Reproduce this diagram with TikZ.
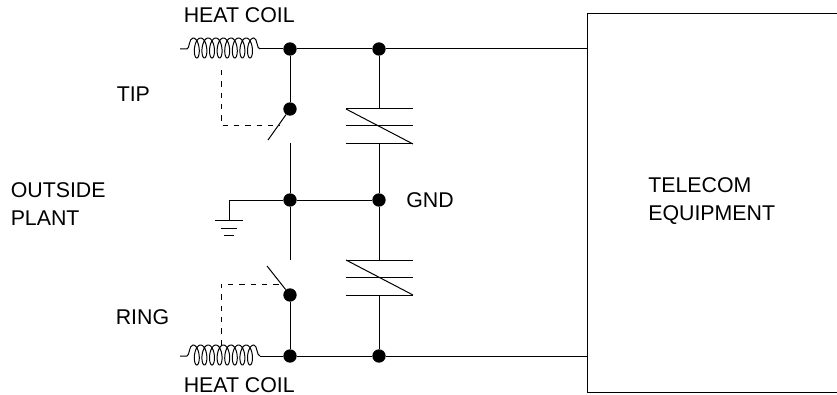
\documentclass[tikz,border=0pt]{standalone}
\usepackage{fontspec}
\setmainfont{Liberation Sans}
\tikzset{
  wire/.style={black, line width=0.75pt},
  dashwire/.style={black, line width=0.5pt, dash pattern=on 4pt off 4.5pt},
  punto/.style={circle, fill=black, inner sep=0pt, minimum size=10pt},
  etiqueta/.style={inner sep=0pt, anchor=base west, font=\fontsize{16pt}{19pt}\selectfont},
}
% bobina: entra por (#1,#2), sale 80 mas a la derecha
\newcommand{\heatcoil}[2]{
  \draw[wire] (#1,#2) -- ++(7,0) .. controls ({#1+9.5},{#2}) and ({#1+9},{#2-11}) .. ({#1+13},{#2-11})
    -- plot[domain=0:2880, samples=260, smooth] ({#1+13+\x/360*7.6+4.2*sin(\x)}, {#2-11+10*(1-cos(\x))})
    .. controls ({#1+77.5},{#2-11}) and ({#1+76.5},{#2}) .. ({#1+80},{#2});
}
\begin{document}
\begin{tikzpicture}[x=0.75pt, y=-0.75pt]
    \useasboundingbox (0,0) rectangle (837,395);

    % nodos
    \node[punto] (ta) at (290,49) {};
    \node[punto] (tb) at (379,49) {};
    \node[punto] (sa) at (290,109) {};
    \node[punto] (ga) at (290,200) {};
    \node[punto] (gb) at (379,200) {};
    \node[punto] (sb) at (290,295) {};
    \node[punto] (ra) at (290,356) {};
    \node[punto] (rb) at (379,356) {};

    % equipo
    \node[draw, wire, anchor=north west, inner sep=0pt, minimum width=195pt, minimum height=284pt] (equipo) at (586.5,13) {};

    % puntos libres
    \coordinate (coilt) at (260,49);
    \coordinate (coilr) at (260,356);
    \coordinate (ct) at (290,143);
    \coordinate (cb) at (290,260);
    \coordinate (bt) at (268,140);
    \coordinate (bb) at (267,266);
    \coordinate (gnd) at (229,200);
    \coordinate (gp) at (229,220);
    \coordinate (c1) at (379,109);
    \coordinate (c2) at (379,144);
    \coordinate (c3) at (379,260);
    \coordinate (c4) at (379,295);

    % bobinas
    \heatcoil{180}{49}
    \heatcoil{180}{356}

    % lineas
    \draw[wire] (coilt) -- (ta);
    \draw[wire] (ta) -- (tb);
    \draw[wire] (tb) -- (tb -| equipo.west);
    \draw[wire] (coilr) -- (ra);
    \draw[wire] (ra) -- (rb);
    \draw[wire] (rb) -- (rb -| equipo.west);
    \draw[wire] (ta) -- (sa);
    \draw[wire] (sa) -- (bt);
    \draw[wire] (ct) -- (ga);
    \draw[wire] (ga) -- (cb);
    \draw[wire] (sb) -- (bb);
    \draw[wire] (sb) -- (ra);
    \draw[wire] (gnd) -- (ga);
    \draw[wire] (ga) -- (gb);
    \draw[wire] (gnd) -- (gp);
    \draw[wire] (tb) -- (c1);
    \draw[wire] (c2) -- (gb);
    \draw[wire] (gb) -- (c3);
    \draw[wire] (c4) -- (rb);

    % capacitores
    \foreach \y in {109,126,144,260,277,295}
        \draw[wire] (346,\y) -- (413,\y);
    \draw[wire] (346,109) -- (413,144);
    \draw[wire] (346,260) -- (413,295);

    % tierra
    \draw[wire] (215,220) -- (243,220);
    \draw[wire] (221,228) -- (237,228);
    \draw[wire] (224,235) -- (234,235);

    % mando punteado
    \draw[dashwire] (221,70) -- (221,125) -- (280,125);
    \draw[dashwire] (221,345) -- (221,284) -- (282,284);

    %leyendas
    \node[etiqueta] (coila) at (183.5,23) {HEAT COIL};
    \node[etiqueta] (coilb) at (183.5,392) {HEAT COIL};
    \node[etiqueta] (tip) at (116.5,102) {TIP};
    \node[etiqueta] (ring) at (115.5,324) {RING};
    \node[etiqueta] (outa) at (10.5,198) {OUTSIDE};
    \node[etiqueta] (outb) at (10.5,225) {PLANT};
    \node[etiqueta] (gndl) at (406,208) {GND};
    \node[etiqueta] (tela) at (648,193) {TELECOM};
    \node[etiqueta] (telb) at (648,220.5) {EQUIPMENT};

\end{tikzpicture}
\end{document}
